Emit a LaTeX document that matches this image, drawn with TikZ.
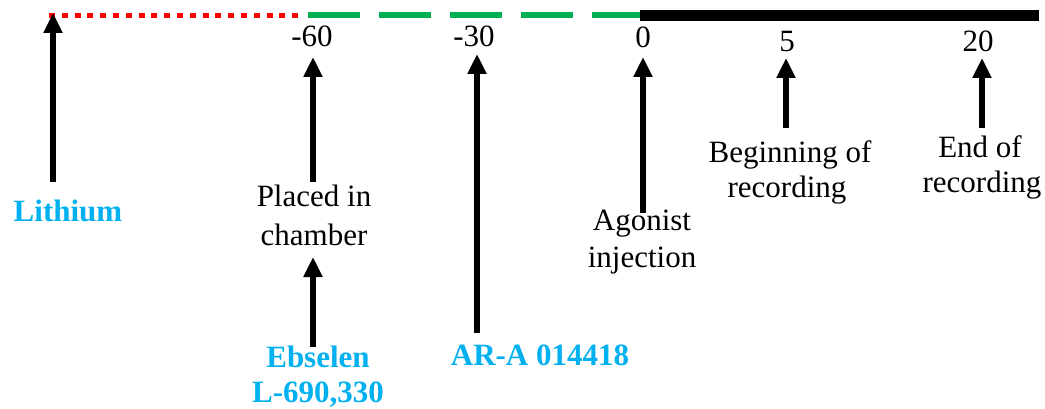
\documentclass[tikz,border=0pt]{standalone}
\usepackage{fontspec}
\setmainfont{Liberation Serif}
\usetikzlibrary{arrows.meta}
\definecolor{lblue}{HTML}{00B0F0}
\definecolor{pgreen}{HTML}{00B050}
\begin{document}
\begin{tikzpicture}[x=1pt,y=-1pt,
  lbl/.style={font=\fontsize{31}{37}\selectfont, inner sep=0pt, anchor=base, text=black},
  drug/.style={lbl, font=\fontsize{31}{37}\selectfont\bfseries, text=lblue},
  uparrow/.style={line width=5.5pt, -{Triangle[width=18pt,length=20pt]}},
]
\useasboundingbox (0,0) rectangle (1045,409);
% timeline
\coordinate (r0) at (49,15.5);
\coordinate (r1) at (300,15.5);
\coordinate (g0) at (308,15);
\coordinate (g1) at (643,15);
\coordinate (b0) at (640,15.7);
\coordinate (b1) at (1039,15.7);
\draw[red, line width=5.5pt, dash pattern=on 6pt off 6.8pt] (r0) -- (r1);
\draw[pgreen, line width=5.5pt, dash pattern=on 52pt off 19pt] (g0) -- (g1);
\draw[black, line width=11pt] (b0) -- (b1);

% numbers
\node[lbl] (n60) at (312,47) {-60};
\node[lbl] (n30) at (474,47) {-30};
\node[lbl] (n0)  at (643,48) {0};
\node[lbl] (n5)  at (787,52) {5};
\node[lbl] (n20) at (978,52) {20};

% labels
\node[drug] (li) at (68,222) {Lithium};
\node[lbl] (pl1) at (314,207) {Placed in};
\node[lbl] (pl2) at (314,245) {chamber};
\node[drug] (eb1) at (318,367) {Ebselen};
\node[drug] (eb2) at (318,402) {L-690,330};
\node[drug] (ar) at (540,365) {AR-A 014418};
\node[lbl] (ag1) at (642,230) {Agonist};
\node[lbl] (ag2) at (642,267) {injection};
\node[lbl] (bg1) at (790,163) {Beginning of};
\node[lbl] (bg2) at (787,197) {recording};
\node[lbl] (en1) at (980,158) {End of};
\node[lbl] (en2) at (982,193) {recording};

% arrow endpoints
\coordinate (liT) at (53,182);  \coordinate (liH) at (53,13);
\coordinate (plT) at (313,182); \coordinate (plH) at (313,57);
\coordinate (ebT) at (313,347); \coordinate (ebH) at (313,257);
\coordinate (arT) at (477,333); \coordinate (arH) at (477,54);
\coordinate (agT) at (643,213); \coordinate (agH) at (643,57);
\coordinate (bgT) at (786,128); \coordinate (bgH) at (786,58);
\coordinate (enT) at (982,128); \coordinate (enH) at (982,58);

\draw[uparrow] (liT) -- (liH);
\draw[uparrow] (plT) -- (plH);
\draw[uparrow] (ebT) -- (ebH);
\draw[uparrow] (arT) -- (arH);
\draw[uparrow] (agT) -- (agH);
\draw[uparrow] (bgT) -- (bgH);
\draw[uparrow] (enT) -- (enH);
\end{tikzpicture}
\end{document}
